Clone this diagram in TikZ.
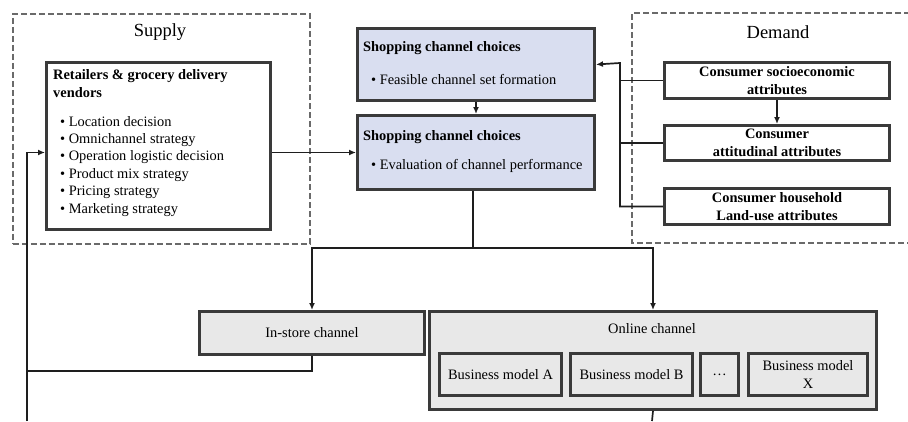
\documentclass[tikz,border=0pt]{standalone}
\usepackage{fontspec}
\setmainfont{Liberation Serif}
\usetikzlibrary{arrows.meta,calc}
\definecolor{boxline}{HTML}{3A3A3A}
\definecolor{dashline}{HTML}{6A6A6A}
\definecolor{bluefill}{HTML}{D9DEF0}
\definecolor{grayfill}{HTML}{E8E8E8}
\definecolor{conn}{HTML}{1E1E1E}
\begin{document}
\begin{tikzpicture}[x=1pt,y=-1pt,
  every node/.style={font=\fontsize{14.4}{17.4}\selectfont, inner sep=0pt},
  framebox/.style={draw=dashline, line width=1.8pt, dash pattern=on 6pt off 3pt},
  mainbox/.style={draw=boxline, line width=3pt, anchor=north west},
  bluebox/.style={mainbox, fill=bluefill},
  graybox/.style={mainbox, fill=grayfill},
  conline/.style={draw=conn, line width=1.7pt},
  arr/.style={conline, -{Latex[length=7pt,width=6pt]}},
  boxtitle/.style={font=\bfseries\fontsize{14.4}{17.4}\selectfont},
  bigtitle/.style={font=\fontsize{18.5}{20}\selectfont}
]
\useasboundingbox (0,0) rectangle (908,421);
\fill[white] (0,0) rectangle (908,421);

% supply frame
\node[framebox, anchor=north west, minimum width=297pt, minimum height=230pt] (supply) at (12,13) {};
\node[bigtitle] (supplylbl) at (160,32) {Supply};
% demand frame (open at right edge)
\draw[framebox] (910,13) -- (632,13) -- (632,243) -- (910,243);
\node[bigtitle] (demandlbl) at (778,32) {Demand};

% retailers
\node[mainbox, minimum width=224pt, minimum height=167pt] (ret) at (45,61) {};
\node[anchor=north west, align=left] (rettxt) at (53,69.5) {%
\textbf{Retailers \& grocery delivery}\\
\textbf{vendors}\\[11.6pt]
\hspace*{7pt}• Location decision\\
\hspace*{7pt}• Omnichannel strategy\\
\hspace*{7pt}• Operation logistic decision\\
\hspace*{7pt}• Product mix strategy\\
\hspace*{7pt}• Pricing strategy\\
\hspace*{7pt}• Marketing strategy};

% shopping channel choices
\node[bluebox, minimum width=237pt, minimum height=72pt] (b1) at (356,27) {};
\node[boxtitle, anchor=west] (b1t) at (363,48) {Shopping channel choices};
\node[anchor=west] (b1b) at (371,79) {• Feasible channel set formation};
\node[bluebox, minimum width=237pt, minimum height=74pt] (b2) at (356,114) {};
\node[boxtitle, anchor=west] (b2t) at (363,137) {Shopping channel choices};
\node[anchor=west] (b2b) at (371,166) {• Evaluation of channel performance};

% demand boxes
\node[mainbox, minimum width=225pt, minimum height=36pt] (soc) at (663,61) {};
\node[boxtitle, align=center] (soct) at (soc.center) {Consumer socioeconomic\\attributes};
\node[mainbox, minimum width=225pt, minimum height=35pt] (att) at (663,124) {};
\node[boxtitle, align=center] (attt) at (att.center) {Consumer\\attitudinal attributes};
\node[mainbox, minimum width=225pt, minimum height=36pt] (hh) at (663,187) {};
\node[boxtitle, align=center] (hht) at (hh.center) {Consumer household\\Land-use attributes};

% channels
\node[graybox, minimum width=225pt, minimum height=43pt] (instore) at (198,310) {};
\node (instoret) at (instore.center) {In-store channel};
\node[graybox, minimum width=447pt, minimum height=98pt] (online) at (428,310) {};
\node (onlinet) at (652,329) {Online channel};
\node[graybox, minimum width=122pt, minimum height=42pt] (bma) at (438,352) {};
\node (bmat) at (bma.center) {Business model A};
\node[graybox, minimum width=122pt, minimum height=42pt] (bmb) at (569,352) {};
\node (bmbt) at (bmb.center) {Business model B};
\node[graybox, minimum width=38pt, minimum height=42pt] (bmd) at (699,352) {};
\node (bmdt) at (bmd.center) {…};
\node[graybox, minimum width=119pt, minimum height=42pt] (bmx) at (747,352) {};
\node[align=center] (bmxt) at (bmx.center) {Business model\\X};

% connectors
\coordinate (split) at (473,248);
\coordinate (bus) at (620,63);
\coordinate (lb) at (27,421);
\coordinate (lj) at (27,371);
\coordinate (ob) at (652,421);

\draw[arr] (b2.west -| ret.east) -- (b2.west);
\draw[arr] (b1.south) -- (b1.south |- b2.north);
\draw[conline] (b2.south -| split) -- (split);
\draw[arr] (split) -| (instore.north);
\draw[arr] (split) -| (online.north);
\draw[conline] (instore.south) |- (lj);
\draw[arr] (lb) |- (ret.west |- b2.west);
\draw[conline] (online.south) -- (ob);
\draw[arr] (hh.west) -| (bus) -- (b1.east);
\draw[conline] (soc.west) -- (soc.west -| bus);
\draw[conline] (att.west) -- (att.west -| bus);
\draw[arr] (soc.south) -- (att.north);
\end{tikzpicture}
\end{document}
